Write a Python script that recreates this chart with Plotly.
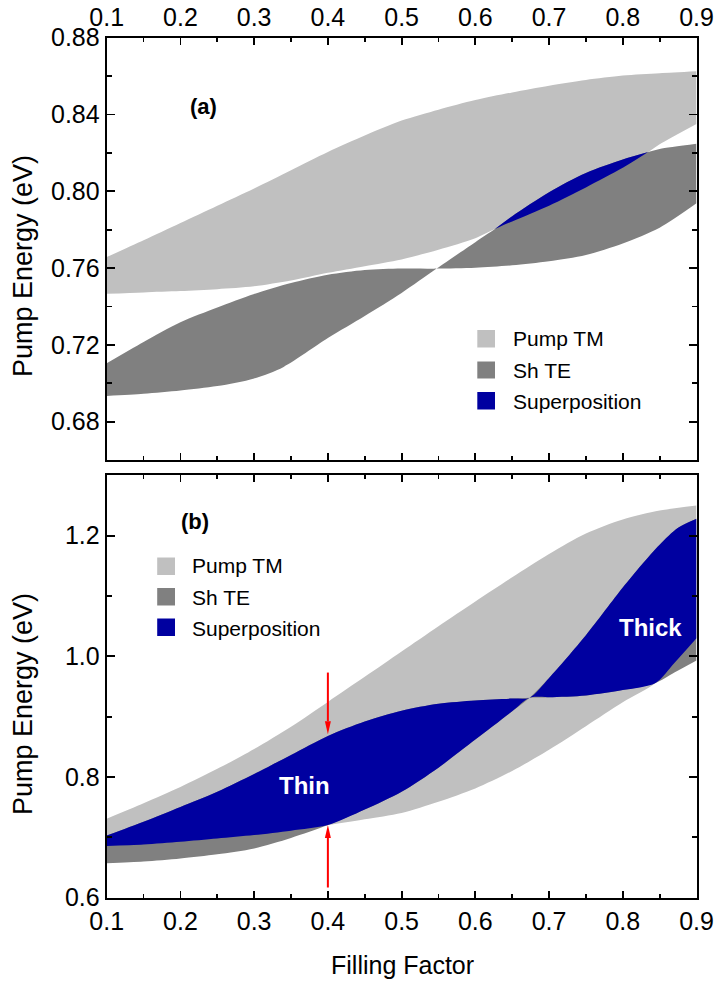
import plotly.graph_objects as go

W, H = 718, 981
FONT = "Liberation Sans, Arial, sans-serif"

LIGHT = "#c0c0c0"
DARK = "#808080"
BLUE = "#0000a0"

# ---------------- Panel (a) data ----------------
a_tm_x = [0.1, 0.15, 0.2, 0.25, 0.3, 0.35, 0.4, 0.45, 0.5, 0.55, 0.6, 0.65, 0.7, 0.75, 0.8, 0.85, 0.9]
a_tm_hi = [0.7657, 0.7745, 0.7835, 0.7925, 0.8015, 0.811, 0.8205, 0.829, 0.8368, 0.8425, 0.8475,
           0.8515, 0.855, 0.858, 0.8603, 0.8615, 0.8625]
a_tmlo_x = [0.1, 0.15, 0.2, 0.25, 0.3, 0.35, 0.4, 0.45, 0.5, 0.55, 0.6, 0.6265, 0.65, 0.7, 0.75, 0.8,
            0.8344, 0.85, 0.9]
a_tm_lo = [0.7466, 0.7473, 0.748, 0.749, 0.7505, 0.7535, 0.7575, 0.761, 0.7645, 0.7695, 0.7755, 0.7803,
           0.7843, 0.7925, 0.802, 0.8122, 0.8204, 0.8245, 0.8351]

a_tea_x = [0.1, 0.15, 0.2, 0.25, 0.3, 0.35, 0.4, 0.45, 0.5, 0.5475, 0.6, 0.65, 0.7, 0.75, 0.8, 0.85, 0.9]
a_te_a = [0.7104, 0.7215, 0.7318, 0.7395, 0.7465, 0.7522, 0.7565, 0.759, 0.7598, 0.7597, 0.7602, 0.7614,
          0.7635, 0.7668, 0.7728, 0.781, 0.7937]
a_teb_x = [0.1, 0.15, 0.2, 0.25, 0.3, 0.34, 0.4, 0.45, 0.5, 0.5475, 0.6, 0.6265, 0.65, 0.7, 0.75, 0.8,
           0.8344, 0.85, 0.9]
a_te_b = [0.6934, 0.6945, 0.6962, 0.6985, 0.7025, 0.7085, 0.7235, 0.735, 0.747, 0.7597, 0.7735, 0.7803,
          0.787, 0.7995, 0.8095, 0.8165, 0.8204, 0.822, 0.8247]

a_sup_x = [0.6265, 0.65, 0.7, 0.75, 0.8, 0.8344]
a_sup_lo = [0.7803, 0.7843, 0.7925, 0.802, 0.8122, 0.8204]
a_sup_hi = [0.7803, 0.787, 0.7995, 0.8095, 0.8165, 0.8204]

# ---------------- Panel (b) data ----------------
b_tm_x = [0.1, 0.15, 0.2, 0.25, 0.3, 0.35, 0.4, 0.45, 0.5, 0.55, 0.6, 0.65, 0.7, 0.75, 0.8, 0.85, 0.9]
b_tm_hi = [0.731, 0.7565, 0.7835, 0.8135, 0.8465, 0.8835, 0.9245, 0.966, 1.008, 1.05, 1.091, 1.131,
           1.1695, 1.2035, 1.2268, 1.2415, 1.25]
b_tmlo_x = [0.1, 0.15, 0.2, 0.25, 0.3, 0.35, 0.4, 0.45, 0.5, 0.55, 0.6, 0.65, 0.7, 0.75, 0.8, 0.8444,
            0.87, 0.9]
b_tm_lo = [0.6855, 0.688, 0.6926, 0.698, 0.7037, 0.711, 0.7203, 0.73, 0.7405, 0.759, 0.781, 0.810,
           0.8452, 0.8843, 0.924, 0.9558, 0.989, 1.03]

b_tec_x = [0.1, 0.15, 0.2, 0.25, 0.3, 0.35, 0.4, 0.45, 0.5, 0.55, 0.6, 0.65, 0.6737, 0.7, 0.75, 0.8,
           0.8444, 0.87, 0.9]
b_te_c = [0.703, 0.726, 0.7505, 0.7755, 0.805, 0.8365, 0.868, 0.892, 0.910, 0.9215, 0.927, 0.930,
          0.9315, 0.9322, 0.9352, 0.944, 0.9558, 0.973, 0.993]
b_ted_x = [0.1, 0.15, 0.2, 0.25, 0.3, 0.35, 0.4, 0.45, 0.5, 0.55, 0.6, 0.65, 0.6737, 0.7, 0.75, 0.8,
           0.825, 0.85, 0.875, 0.9]
b_te_d = [0.657, 0.660, 0.665, 0.672, 0.6817, 0.699, 0.7203, 0.746, 0.7755, 0.8155, 0.862, 0.909,
          0.9315, 0.964, 1.035, 1.114, 1.151, 1.185, 1.213, 1.228]

b_suplo_x = [0.1, 0.15, 0.2, 0.25, 0.3, 0.35, 0.4, 0.45, 0.5, 0.55, 0.6, 0.65, 0.6737, 0.7, 0.75, 0.8,
             0.8444, 0.87, 0.9]
b_sup_lo = [0.6855, 0.688, 0.6926, 0.698, 0.7037, 0.711, 0.7203, 0.746, 0.7755, 0.8155, 0.862, 0.909,
            0.9315, 0.9322, 0.9352, 0.944, 0.9558, 0.989, 1.03]
b_suphi_x = [0.1, 0.15, 0.2, 0.25, 0.3, 0.35, 0.4, 0.45, 0.5, 0.55, 0.6, 0.65, 0.6737, 0.7, 0.75, 0.8,
             0.825, 0.85, 0.875, 0.9]
b_sup_hi = [0.703, 0.726, 0.7505, 0.7755, 0.805, 0.8365, 0.868, 0.892, 0.910, 0.9215, 0.927, 0.930,
            0.9315, 0.964, 1.035, 1.114, 1.151, 1.185, 1.213, 1.228]

legend_labels = ["Pump TM", "Sh TE", "Superposition"]
legend_colors = [LIGHT, DARK, BLUE]

# arrows (panel b) at filling factor 0.4
arrow_x = 0.4
arrow_down = (0.9731, 0.871)   # tail, tip
arrow_up = (0.617, 0.7203)     # tail, tip

fig = go.Figure()


def band(xl, yl, xh, yh, color, xa, ya):
    fig.add_trace(go.Scatter(x=xl, y=yl, mode="lines", line=dict(width=0, shape="spline", smoothing=0.8),
                             showlegend=False, hoverinfo="skip", xaxis=xa, yaxis=ya))
    fig.add_trace(go.Scatter(x=xh, y=yh, mode="lines", line=dict(width=0, shape="spline", smoothing=0.8),
                             fill="tonexty", fillcolor=color, showlegend=False, hoverinfo="skip",
                             xaxis=xa, yaxis=ya))


# panel (a)
band(a_tmlo_x, a_tm_lo, a_tm_x, a_tm_hi, LIGHT, "x", "y")
band(a_tea_x, a_te_a, a_teb_x, a_te_b, DARK, "x", "y")
band(a_sup_x, a_sup_lo, a_sup_x, a_sup_hi, BLUE, "x", "y")
# panel (b)
band(b_tmlo_x, b_tm_lo, b_tm_x, b_tm_hi, LIGHT, "x2", "y2")
band(b_tec_x, b_te_c, b_ted_x, b_te_d, DARK, "x2", "y2")
band(b_suplo_x, b_sup_lo, b_suphi_x, b_sup_hi, BLUE, "x2", "y2")

X0, X1 = 106.7, 696.5
TOP = (37.7, 460.0)
BOT = (475.3, 897.7)
xdom = [X0 / W, X1 / W]


def ydom(p):
    return [1 - p[1] / H, 1 - p[0] / H]


axis_common = dict(showline=True, linecolor="black", linewidth=2, mirror="ticks", ticks="inside",
                   tickwidth=1.8, tickcolor="black", showgrid=False, zeroline=False,
                   tickfont=dict(family=FONT, size=25, color="black"), automargin=False)

fig.update_layout(
    width=W, height=H, margin=dict(l=0, r=0, t=0, b=0),
    paper_bgcolor="white", plot_bgcolor="white", showlegend=False,
    font=dict(family=FONT, color="black"),
    xaxis=dict(domain=xdom, range=[0.1, 0.9], anchor="y", side="top", tick0=0.1, dtick=0.1,
               tickformat=".1f", ticklen=7,
               minor=dict(dtick=0.05, ticklen=4, ticks="inside", tickwidth=1.8, tickcolor="black"),
               **axis_common),
    yaxis=dict(domain=ydom(TOP), range=[0.66, 0.88], anchor="x", tick0=0.68, dtick=0.04,
               tickformat=".2f", ticklen=8,
               minor=dict(dtick=0.02, ticklen=5, ticks="inside", tickwidth=1.8, tickcolor="black"),
               **axis_common),
    xaxis2=dict(domain=xdom, range=[0.1, 0.9], anchor="y2", side="bottom", tick0=0.1, dtick=0.1,
                tickformat=".1f", ticklen=7,
                minor=dict(dtick=0.05, ticklen=4, ticks="inside", tickwidth=1.8, tickcolor="black"),
                **axis_common),
    yaxis2=dict(domain=ydom(BOT), range=[0.6, 1.3], anchor="x2", tick0=0.6, dtick=0.2,
                tickformat=".1f", ticklen=8,
                minor=dict(dtick=0.1, ticklen=5, ticks="inside", tickwidth=1.8, tickcolor="black"),
                **axis_common),
)

ann = []
shapes = []

# axis titles
for yc in (266, 704):
    ann.append(dict(text="Pump Energy (eV)", x=23 / W, y=1 - yc / H, xref="paper", yref="paper",
                    xanchor="center", yanchor="middle",
                    showarrow=False, textangle=-90, font=dict(size=27, family=FONT)))
ann.append(dict(text="Filling Factor", x=402 / W, y=1 - 965 / H, xref="paper", yref="paper",
                xanchor="center", yanchor="middle",
                showarrow=False, font=dict(size=25, family=FONT)))

# panel labels
ann.append(dict(text="<b>(a)</b>", x=188 / W, y=1 - 91.7 / H, xref="paper", yref="paper",
                showarrow=False, font=dict(size=22, family=FONT)))
ann.append(dict(text="<b>(b)</b>", x=178.6 / W, y=1 - 521.7 / H, xref="paper", yref="paper",
                showarrow=False, font=dict(size=22, family=FONT)))

# Thin / Thick
ann.append(dict(text="<b>Thin</b>", x=0.3688, y=0.7865, xref="x2", yref="y2", showarrow=False,
                font=dict(size=24, family=FONT, color="white")))
ann.append(dict(text="<b>Thick</b>", x=0.838, y=1.047, xref="x2", yref="y2", showarrow=False,
                font=dict(size=24, family=FONT, color="white")))


# manual legends
def legend(sq_x0, sq_x1, text_x, rows):
    for (y0, y1, yc), lab, col in zip(rows, legend_labels, legend_colors):
        shapes.append(dict(type="rect", xref="paper", yref="paper", x0=sq_x0 / W, x1=sq_x1 / W,
                           y0=1 - y1 / H, y1=1 - y0 / H, fillcolor=col, line=dict(width=0)))
        ann.append(dict(text=lab, x=text_x / W, y=1 - yc / H, xref="paper", yref="paper",
                        xanchor="left", yanchor="middle", showarrow=False, font=dict(size=21, family=FONT)))


legend(477.3, 495.0, 510.5, [(330, 347.5, 338.5), (361.5, 378.5, 370), (392, 409.5, 401)])
legend(157.2, 175.0, 189.5, [(557.5, 575, 565.5), (588, 605.5, 597), (618.5, 636, 628)])

# red arrows: shaft + narrow head (pixel-sized)
for tail, tip, direction in ((arrow_down[0], arrow_down[1], 1), (arrow_up[0], arrow_up[1], -1)):
    head_len = 13
    base = tip + direction * head_len / 603.9
    shapes.append(dict(type="line", xref="x2", yref="y2", x0=arrow_x, x1=arrow_x, y0=tail, y1=base,
                       line=dict(color="red", width=2)))
    shapes.append(dict(type="path", xref="x2", yref="y2", xsizemode="pixel", ysizemode="pixel",
                       xanchor=arrow_x, yanchor=tip,
                       path=f"M 0 0 L -3 {direction*head_len} L 3 {direction*head_len} Z",
                       fillcolor="red", line=dict(width=0)))

fig.update_layout(annotations=ann, shapes=shapes)
fig.write_html("out.html", config={"displayModeBar": False, "staticPlot": True},
               post_script="document.body.style.margin='0';document.body.style.padding='0';"
                           "document.documentElement.style.overflow='hidden';")
